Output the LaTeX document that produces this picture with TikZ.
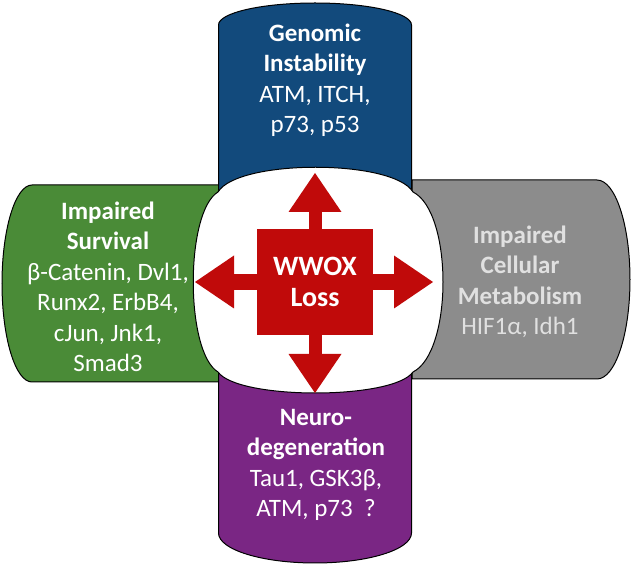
\documentclass[tikz,border=0pt]{standalone}
\usepackage{fontspec}
\setmainfont{Carlito}
\usetikzlibrary{arrows.meta}
\definecolor{genblue}{RGB}{18,74,124}
\definecolor{survgreen}{RGB}{74,139,55}
\definecolor{metagray}{RGB}{140,140,140}
\definecolor{neuropurple}{RGB}{122,38,132}
\definecolor{lossred}{RGB}{192,10,10}
\begin{document}
\begin{tikzpicture}[x=1pt, y=1pt,
    cyl/.style={draw=black, line width=1pt},
    txt/.style={text=white, align=center, anchor=base, inner sep=0pt,
                font=\fontsize{25}{30.5}\selectfont},
    ray/.style={draw=lossred, -{Triangle[width=53pt, length=39pt, line width=0pt]}}]
    \useasboundingbox (0,0) rectangle (633,568);

    % the four cylinders
    \filldraw[cyl, fill=survgreen] (220,383) -- (32,383)
        arc[start angle=90, end angle=270, x radius=30, y radius=98.5] -- (220,186) -- cycle;
    \filldraw[cyl, fill=metagray] (412,388) -- (597,388)
        arc[start angle=90, end angle=-90, x radius=33, y radius=99.5] -- (412,189) -- cycle;
    \filldraw[cyl, fill=genblue] (218.5,373) -- (218.5,543)
        arc[start angle=180, end angle=0, x radius=96.5, y radius=22] -- (411.5,373) -- cycle;
    \filldraw[cyl, fill=neuropurple] (218.5,200) -- (218.5,35)
        arc[start angle=180, end angle=360, x radius=96.5, y radius=30] -- (411.5,200) -- cycle;

    % white face in the middle
    \filldraw[cyl, fill=white] (218,376) .. controls (238,409) and (393,409) .. (413,376)
        .. controls (453,356) and (453,216) .. (413,196)
        .. controls (393,168) and (238,168) .. (218,196)
        .. controls (185,216) and (185,356) .. (218,376) -- cycle;

    % WWOX loss cross
    \node[txt, anchor=center, fill=lossred, minimum width=116pt, minimum height=106pt,
          font=\fontsize{28}{31}\selectfont]
        (wwox) at (315,286) {\textbf{WWOX}\\\textbf{Loss}};
    \coordinate (tipN) at (315,395);
    \coordinate (tipS) at (315,175);
    \coordinate (tipW) at (195,286);
    \coordinate (tipE) at (433,286);
    \draw[ray, line width=13pt] (wwox.north) -- (tipN);
    \draw[ray, line width=13pt] (wwox.south) -- (tipS);
    \draw[ray, line width=16pt] (wwox.west) -- (tipW);
    \draw[ray, line width=16pt] (wwox.east) -- (tipE);

    % labels (anchored at the baseline of the last line)
    \node[txt] (genomic) at (315,435)
        {\textbf{Genomic}\\\textbf{Instability}\\ATM, ITCH,\\p73, p53};
    \node[txt] (survival) at (108,196)
        {\textbf{Impaired}\\\textbf{Survival}\\β-Catenin, Dvl1,\\Runx2, ErbB4,\\cJun, Jnk1,\\Smad3};
    \node[txt, text=white!88!black] (metabolism) at (520,233)
        {\textbf{Impaired}\\\textbf{Cellular}\\\textbf{Metabolism}\\HIF1α, Idh1};
    \node[txt] (neuro) at (316,51)
        {\textbf{Neuro-}\\\textbf{degeneration}\\Tau1, GSK3β,\\ATM, p73~~?};
\end{tikzpicture}
\end{document}
